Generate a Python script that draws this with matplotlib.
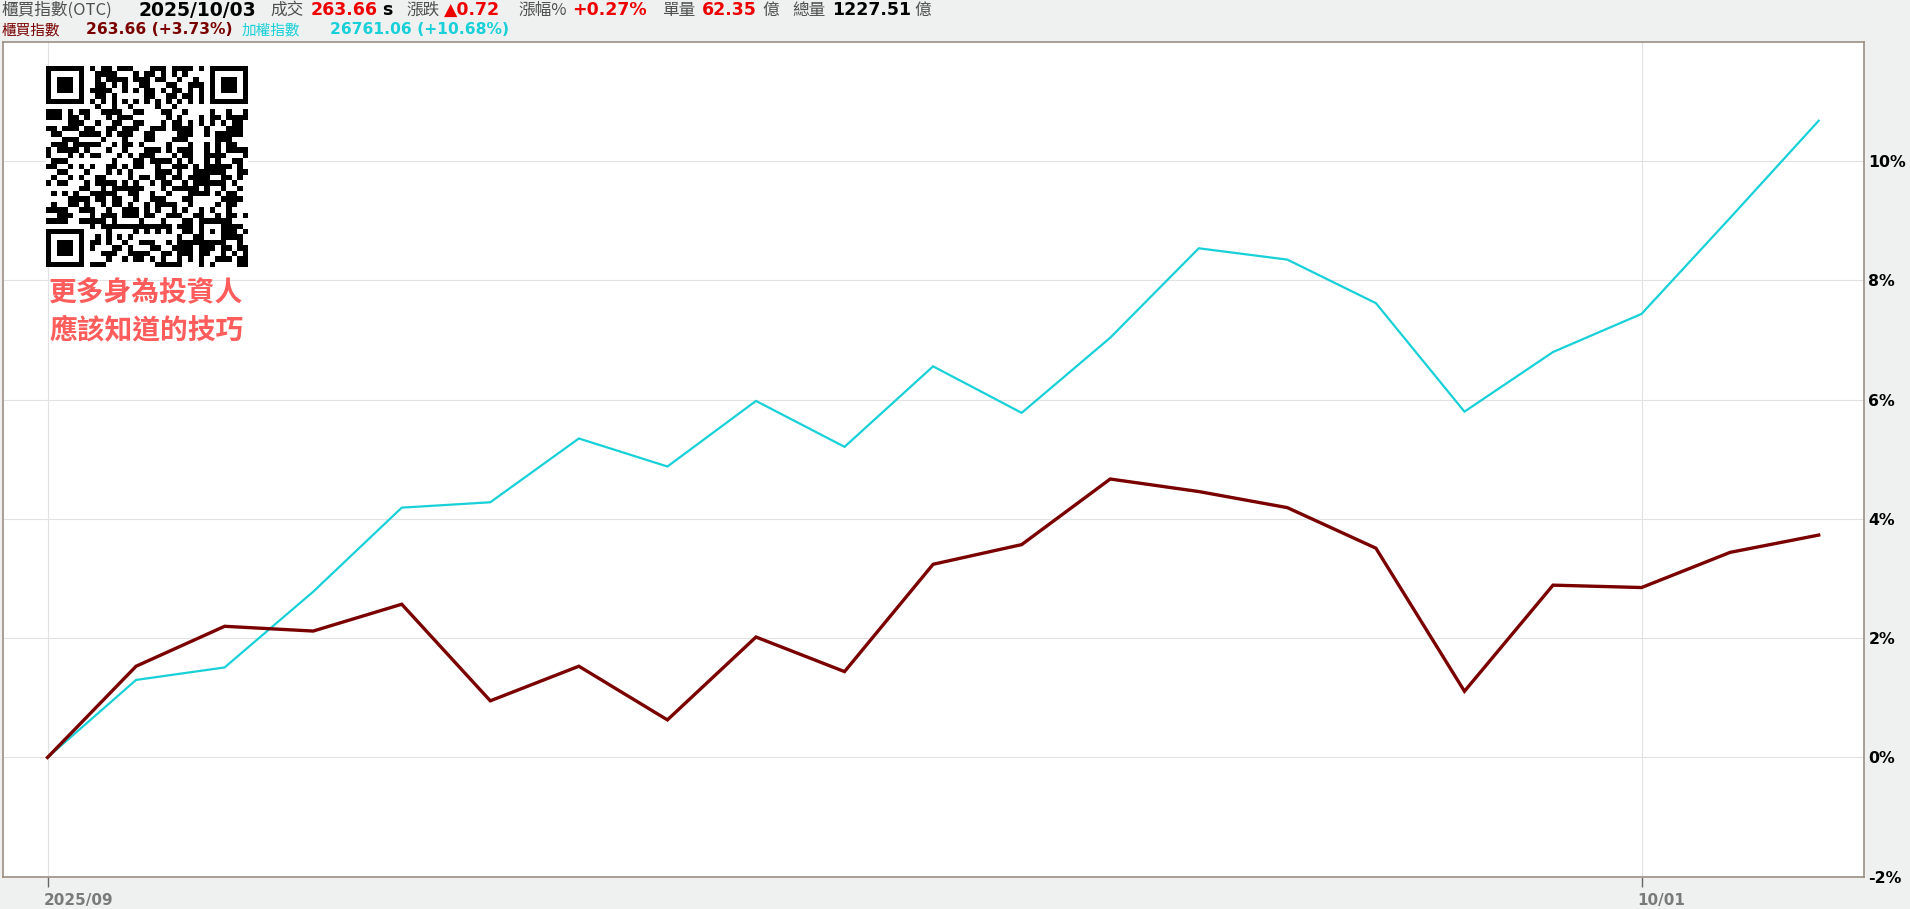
import numpy as np
import matplotlib
matplotlib.use("Agg")
import matplotlib.pyplot as plt
from matplotlib.transforms import ScaledTranslation

# ---------------- data ----------------
otc_pct = [0.00, 1.53, 2.20, 2.12, 2.57, 0.95, 1.53, 0.63, 2.02, 1.44, 3.24,
           3.57, 4.67, 4.46, 4.19, 3.51, 1.11, 2.89, 2.85, 3.44, 3.73]
taiex_pct = [0.00, 1.30, 1.51, 2.78, 4.19, 4.28, 5.35, 4.88, 5.98, 5.21, 6.56,
             5.78, 7.04, 8.54, 8.35, 7.62, 5.80, 6.80, 7.44, 9.05, 10.68]
x_tick_pos = [0, 18]
x_tick_labels = ["2025/09", "10/01"]
y_ticks = [-2, 0, 2, 4, 6, 8, 10]
y_tick_labels = [f"{v}%" for v in y_ticks]

W, H = 1910, 909
DPI = 100
BG = "#eff1f1"
MAROON = "#7a0000"
CYAN = "#18d0d8"
CJK = ["Noto Sans CJK TC", "DejaVu Sans"]
NUM = ["DejaVu Sans", "Noto Sans CJK TC"]

fig = plt.figure(figsize=(W / DPI, H / DPI), dpi=DPI, facecolor=BG)

def px_axes(x0, y0, x1, y1, **kw):
    return fig.add_axes([x0 / W, 1 - y1 / H, (x1 - x0) / W, (y1 - y0) / H], **kw)

ax = px_axes(2.7, 42, 1864.3, 876.7)
ax.set_facecolor("white")
x = np.arange(len(otc_pct))
ax.plot(x, taiex_pct, color=CYAN, lw=1.6, zorder=3, solid_joinstyle="miter")
ax.plot(x, otc_pct, color=MAROON, lw=2.4, zorder=4, solid_joinstyle="miter")
ax.set_xlim(-0.506, 20.515)
ax.set_ylim(-2, 12.0)

for s in ax.spines.values():
    s.set_color("#9c8f83")
    s.set_linewidth(1.2)

ax.set_yticks(y_ticks)
ax.set_yticklabels(y_tick_labels)
ax.yaxis.tick_right()
ax.tick_params(axis="y", length=0, pad=3, labelsize=11.3, labelcolor="black")
for t in ax.get_yticklabels():
    t.set_fontweight("bold")
    t.set_family(NUM)

ax.set_xticks(x_tick_pos)
ax.set_xticklabels(x_tick_labels)
ax.tick_params(axis="x", length=7, width=1, color="#666666", pad=5,
               labelsize=11, labelcolor="#7a7a7a")
off = ScaledTranslation(-4 / DPI, 0, fig.dpi_scale_trans)
for t in ax.get_xticklabels():
    t.set_fontweight("bold")
    t.set_family(NUM)
    t.set_ha("left")
    t.set_transform(t.get_transform() + off)

ax.grid(True, color="#e2e2e2", lw=0.8, zorder=0)
ax.set_axisbelow(True)

# ---------------- header ----------------
def ht(xp, yp, s, color, size, bold=False, fam=NUM):
    fig.text(xp / W, 1 - yp / H, s, color=color, fontsize=size,
             fontweight="bold" if bold else "normal", family=fam,
             ha="left", va="center")

y1 = 10
GRAY = "#505050"
RED = "#ee0000"
ht(2, y1, "櫃買指數(OTC)", GRAY, 12, fam=CJK)
ht(138, y1, "2025/10/03", "black", 13.5, True)
ht(270, y1, "成交", GRAY, 12, fam=CJK)
ht(311, y1, "263.66", RED, 12.5, True)
ht(382, y1, "s", "black", 12.5, True)
ht(406, y1, "漲跌", GRAY, 12, fam=CJK)
ht(444, y1, "▲0.72", RED, 12.5, True)
ht(518, y1, "漲幅%", GRAY, 12, fam=CJK)
ht(572, y1, "+0.27%", RED, 12.5, True)
ht(662, y1, "單量", GRAY, 12, fam=CJK)
ht(702, y1, "62.35", RED, 12.5, True)
ht(762, y1, "億", GRAY, 12, fam=CJK)
ht(792, y1, "總量", GRAY, 12, fam=CJK)
ht(832, y1, "1227.51", "black", 12.5, True)
ht(914, y1, "億", GRAY, 12, fam=CJK)

y2 = 30
ht(2, y2, "櫃買指數", MAROON, 10.5, fam=CJK)
ht(86, y2, "263.66 (+3.73%)", MAROON, 11.2, True)
ht(242, y2, "加權指數", CYAN, 10.5, fam=CJK)
ht(330, y2, "26761.06 (+10.68%)", CYAN, 11.2, True)

# ---------------- QR-like decoration ----------------
N = 37
qr = np.zeros((N, N), dtype=int)
for i in range(N):
    for j in range(N):
        h = (i * 73856093) ^ (j * 19349663) ^ ((i * j) * 83492791)
        h = (h ^ (h >> 13)) * 1274126177 & 0xFFFFFFFF
        qr[i, j] = (h >> 16) & 1

def finder(r, c):
    qr[max(r - 1, 0):r + 8, max(c - 1, 0):c + 8] = 0
    qr[r:r + 7, c:c + 7] = 1
    qr[r + 1:r + 6, c + 1:c + 6] = 0
    qr[r + 2:r + 5, c + 2:c + 5] = 1

finder(0, 0)
finder(0, N - 7)
finder(N - 7, 0)
qr[28:33, 28:33] = 1
qr[29:32, 29:32] = 0
qr[30, 30] = 1
for k in range(8, N - 8):
    qr[6, k] = 1 - (k % 2)
    qr[k, 6] = 1 - (k % 2)

qax = px_axes(46, 66, 247, 267)
qax.imshow(1 - qr, cmap="gray", vmin=0, vmax=1, interpolation="nearest",
           aspect="auto")
qax.set_axis_off()

fig.text(49 / W, 1 - 292 / H, "更多身為投資人", color="#ff5c5c", fontsize=20,
         fontweight="bold", family=CJK, ha="left", va="center")
fig.text(49 / W, 1 - 331 / H, "應該知道的技巧", color="#ff5c5c", fontsize=20,
         fontweight="bold", family=CJK, ha="left", va="center")

fig.savefig("out.png", dpi=DPI, facecolor=BG)
